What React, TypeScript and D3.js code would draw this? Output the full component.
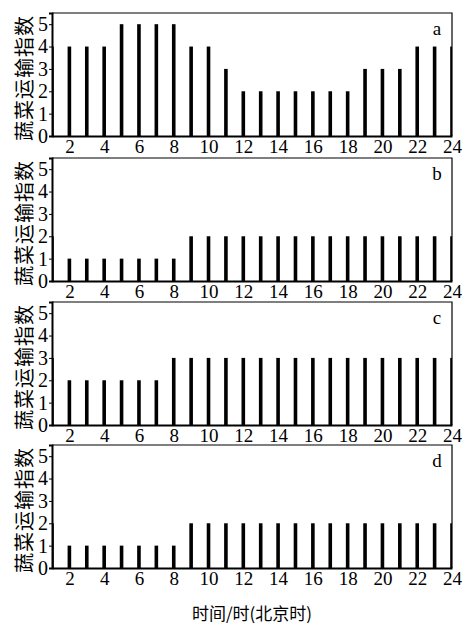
import React, { useEffect, useRef } from 'react';
import * as d3 from 'd3';

const hours = d3.range(1, 25);
const panelLabels = ['a', 'b', 'c', 'd'];
const seriesA = [4, 4, 4, 4, 5, 5, 5, 5, 4, 4, 3, 2, 2, 2, 2, 2, 2, 2, 3, 3, 3, 4, 4, 4];
const seriesB = [2, 1, 1, 1, 1, 1, 1, 1, 2, 2, 2, 2, 2, 2, 2, 2, 2, 2, 2, 2, 2, 2, 2, 2];
const seriesC = [3, 2, 2, 2, 2, 2, 2, 3, 3, 3, 3, 3, 3, 3, 3, 3, 3, 3, 3, 3, 3, 3, 3, 3];
const seriesD = [2, 1, 1, 1, 1, 1, 1, 1, 2, 2, 2, 2, 2, 2, 2, 2, 2, 2, 2, 2, 2, 2, 2, 2];
const xTicks = [2, 4, 6, 8, 10, 12, 14, 16, 18, 20, 22, 24];
const yTicks = [0, 1, 2, 3, 4, 5];
const yTitle = '蔬菜运输指数';
const xTitle = '时间/时(北京时)';

const App = () => {
    const svgRef = useRef<SVGSVGElement>(null);

    useEffect(() => {
        const svg = d3.select(svgRef.current);
        svg.selectAll('*').remove();

        const left = 52, right = 452;
        const panelTops = [13, 158, 302, 445];
        const panelH = 123;
        const serif = '"Liberation Serif", "DejaVu Serif", serif';
        const cjk = '"Noto Sans CJK SC", sans-serif';
        const allSeries = [seriesA, seriesB, seriesC, seriesD];

        const x = d3.scaleLinear().domain([1, 24]).range([left, right]);

        allSeries.forEach((vals, i) => {
            const top = panelTops[i];
            const bottom = top + panelH;
            const y = d3.scaleLinear().domain([0, 5.5]).range([bottom, top]);
            const g = svg.append('g');

            const clipId = `clip-${i}`;
            g.append('clipPath').attr('id', clipId)
                .append('rect')
                .attr('x', left).attr('y', top)
                .attr('width', right - left).attr('height', panelH);

            // bars, clipped to the frame so the 1h / 24h bars sit on the edges
            g.append('g')
                .attr('clip-path', `url(#${clipId})`)
                .selectAll('rect')
                .data(hours)
                .join('rect')
                .attr('x', d => x(d) - 1.8)
                .attr('width', 3.6)
                .attr('y', (d, k) => y(vals[k]))
                .attr('height', (d, k) => bottom - y(vals[k]))
                .attr('fill', '#000');

            // frame: thin top/right
            g.append('path')
                .attr('d', `M${left},${top}H${right}V${bottom}`)
                .attr('fill', 'none')
                .attr('stroke', '#000')
                .attr('stroke-width', 1.2);

            const yAxis = g.append('g')
                .attr('transform', `translate(${left},0)`)
                .call(d3.axisLeft(y).tickValues(yTicks).tickSize(3).tickPadding(1).tickFormat(d3.format('d')));
            yAxis.select('.domain').attr('stroke-width', 2);
            yAxis.selectAll('text')
                .attr('font-family', serif)
                .attr('font-size', 20)
                .attr('fill', '#000');

            const xAxis = g.append('g')
                .attr('transform', `translate(0,${bottom})`)
                .call(d3.axisBottom(x).tickValues(xTicks).tickSize(0).tickPadding(3));
            xAxis.select('.domain').attr('stroke-width', 2);
            xAxis.selectAll('text')
                .attr('font-family', serif)
                .attr('font-size', 19)
                .attr('fill', '#000');

            g.append('text')
                .attr('x', 437)
                .attr('y', top + 22)
                .attr('text-anchor', 'middle')
                .attr('font-family', serif)
                .attr('font-size', 19)
                .text(panelLabels[i]);

            // rotated y title
            g.append('text')
                .attr('transform', `translate(32,${top + 65}) rotate(-90)`)
                .attr('text-anchor', 'middle')
                .attr('font-family', cjk)
                .attr('font-size', 20)
                .attr('letter-spacing', 1)
                .attr('fill', '#000')
                .text(yTitle);
        });

        svg.append('text')
            .attr('x', 252)
            .attr('y', 620)
            .attr('text-anchor', 'middle')
            .attr('font-family', cjk)
            .attr('font-size', 17)
            .attr('fill', '#000')
            .text(xTitle);
    }, []);

    return (
        <svg ref={svgRef} width={462} height={629}
            style={{ position: 'absolute', left: 0, top: 0, background: '#fff' }}></svg>
    );
};

export default App;
